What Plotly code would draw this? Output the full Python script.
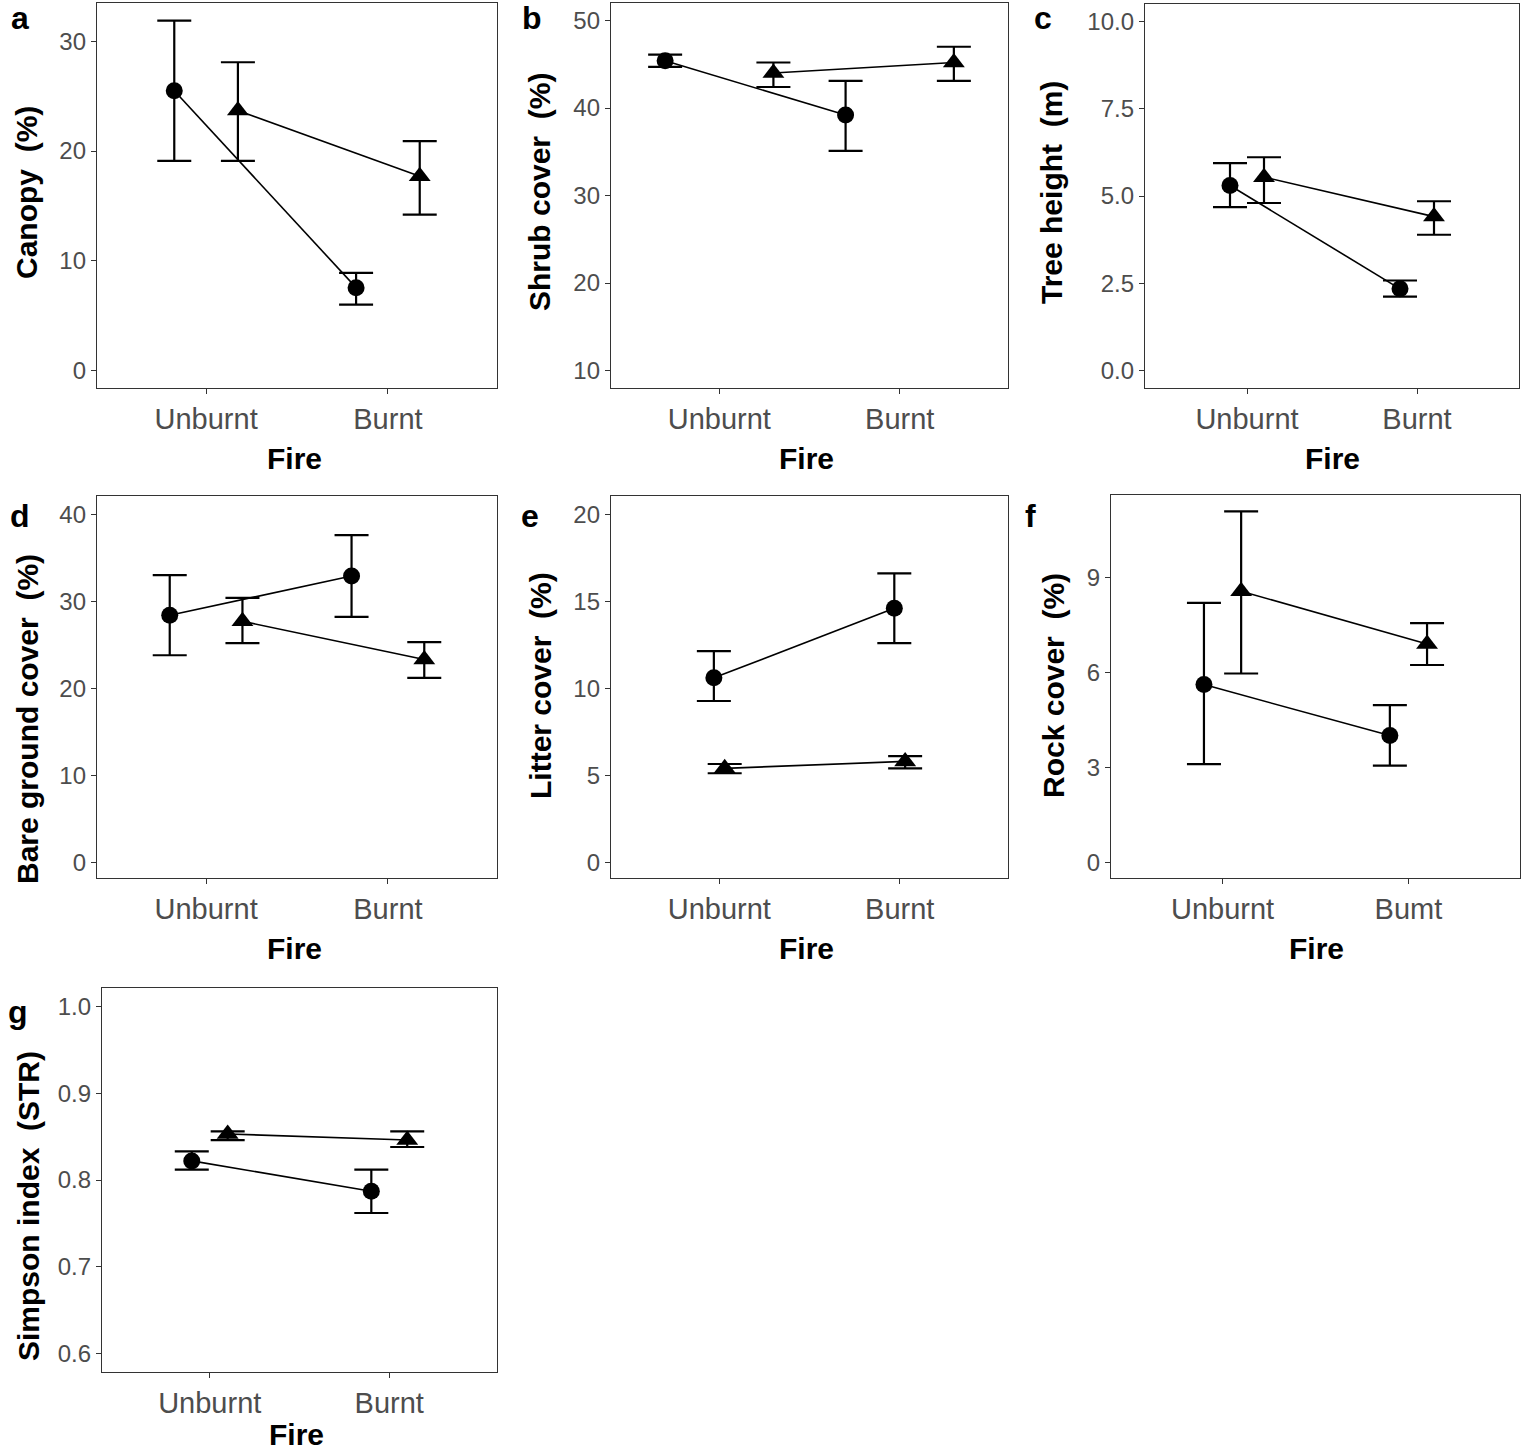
import plotly.graph_objects as go

# categories on the x axis
fire_labels = ["Unburnt", "Burnt"]
fire_labels_f = ["Unburnt", "Bumt"]

# a - canopy (%)
canopy_circle = [25.5, 7.55]
canopy_circle_lo = [19.1, 6.0]
canopy_circle_hi = [31.9, 8.9]
canopy_tri = [23.7, 17.7]
canopy_tri_lo = [19.1, 14.2]
canopy_tri_hi = [28.1, 20.9]

# b - shrub cover (%)
shrub_circle = [45.4, 39.2]
shrub_circle_lo = [44.7, 35.1]
shrub_circle_hi = [46.1, 43.1]
shrub_tri = [44.0, 45.2]
shrub_tri_lo = [42.4, 43.1]
shrub_tri_hi = [45.2, 47.0]

# c - tree height (m)
height_circle = [5.3, 2.34]
height_circle_lo = [4.68, 2.12]
height_circle_hi = [5.94, 2.58]
height_tri = [5.54, 4.41]
height_tri_lo = [4.8, 3.89]
height_tri_hi = [6.11, 4.85]

# d - bare ground cover (%)
bare_circle = [28.4, 32.9]
bare_circle_lo = [23.8, 28.2]
bare_circle_hi = [33.0, 37.6]
bare_tri = [27.7, 23.3]
bare_tri_lo = [25.2, 21.2]
bare_tri_hi = [30.4, 25.3]

# e - litter cover (%)
litter_circle = [10.6, 14.6]
litter_circle_lo = [9.27, 12.6]
litter_circle_hi = [12.14, 16.6]
litter_tri = [5.4, 5.8]
litter_tri_lo = [5.12, 5.4]
litter_tri_hi = [5.65, 6.1]

# f - rock cover (%)
rock_circle = [5.61, 4.0]
rock_circle_lo = [3.1, 3.05]
rock_circle_hi = [8.19, 4.96]
rock_tri = [8.56, 6.89]
rock_tri_lo = [5.96, 6.23]
rock_tri_hi = [11.08, 7.55]

# g - simpson index (STR)
simpson_circle = [0.822, 0.787]
simpson_circle_lo = [0.812, 0.762]
simpson_circle_hi = [0.833, 0.812]
simpson_tri = [0.853, 0.846]
simpson_tri_lo = [0.846, 0.838]
simpson_tri_hi = [0.856, 0.856]

W, H = 1524, 1455

FONT = "Liberation Sans, Arial, sans-serif"


def px_x(x):
    return x / W


def px_y(y):
    return 1 - y / H


panels = [
    dict(letter="a", title="Canopy  (%)", box=(97, 3, 497, 388), yr=[-1.6, 33.5],
         yt=[0, 10, 20, 30], fmt="", dodge=0.175, ticks=fire_labels,
         data=(canopy_circle, canopy_circle_lo, canopy_circle_hi,
               canopy_tri, canopy_tri_lo, canopy_tri_hi),
         tx=27, ty=193, lx=20, ly=18, fx=294, fy=458),
    dict(letter="b", title="Shrub cover  (%)", box=(611, 3, 1008, 388), yr=[8, 52],
         yt=[10, 20, 30, 40, 50], fmt="", dodge=0.3, ticks=fire_labels,
         data=(shrub_circle, shrub_circle_lo, shrub_circle_hi,
               shrub_tri, shrub_tri_lo, shrub_tri_hi),
         tx=540, ty=192, lx=532, ly=18, fx=806, fy=458),
    dict(letter="c", title="Tree height  (m)", box=(1145, 4, 1519, 388), yr=[-0.5, 10.5],
         yt=[0, 2.5, 5, 7.5, 10], fmt=".1f", dodge=0.1, ticks=fire_labels,
         data=(height_circle, height_circle_lo, height_circle_hi,
               height_tri, height_tri_lo, height_tri_hi),
         tx=1052, ty=193, lx=1043, ly=18, fx=1332, fy=458),
    dict(letter="d", title="Bare ground cover  (%)", box=(97, 496, 497, 878), yr=[-1.8, 42.1],
         yt=[0, 10, 20, 30, 40], fmt="", dodge=0.2, ticks=fire_labels,
         data=(bare_circle, bare_circle_lo, bare_circle_hi,
               bare_tri, bare_tri_lo, bare_tri_hi),
         tx=27, ty=719, lx=20, ly=516, fx=294, fy=948),
    dict(letter="e", title="Litter cover  (%)", box=(611, 496, 1008, 878), yr=[-0.9, 21.05],
         yt=[0, 5, 10, 15, 20], fmt="", dodge=0.03, ticks=fire_labels,
         data=(litter_circle, litter_circle_lo, litter_circle_hi,
               litter_tri, litter_tri_lo, litter_tri_hi),
         tx=540, ty=686, lx=530, ly=516, fx=807, fy=948),
    dict(letter="f", title="Rock cover  (%)", box=(1111, 495, 1520, 878), yr=[-0.5, 11.6],
         yt=[0, 3, 6, 9], fmt="", dodge=0.1, ticks=fire_labels_f,
         data=(rock_circle, rock_circle_lo, rock_circle_hi,
               rock_tri, rock_tri_lo, rock_tri_hi),
         tx=1053, ty=686, lx=1030, ly=516, fx=1316, fy=948),
    dict(letter="g", title="Simpson index  (STR)", box=(102, 988, 497, 1372), yr=[0.579, 1.021],
         yt=[0.6, 0.7, 0.8, 0.9, 1.0], fmt=".1f", dodge=0.1, ticks=fire_labels,
         data=(simpson_circle, simpson_circle_lo, simpson_circle_hi,
               simpson_tri, simpson_tri_lo, simpson_tri_hi),
         tx=28, ty=1206, lx=18, ly=1012, fx=296, fy=1434),
]

fig = go.Figure()
annotations = []
positions = [1, 2]

for i, p in enumerate(panels):
    n = "" if i == 0 else str(i + 1)
    xa, ya = "x" + n, "y" + n
    c, c_lo, c_hi, t, t_lo, t_hi = p["data"]

    for mean, lo, hi, sym, size, sign in [
        (c, c_lo, c_hi, "circle", 17, -1),
        (t, t_lo, t_hi, "triangle-up", 19, 1),
    ]:
        fig.add_trace(go.Scatter(
            x=[v + sign * p["dodge"] for v in positions],
            y=mean,
            mode="lines+markers",
            line=dict(color="black", width=1.6),
            marker=dict(symbol=sym, size=size, color="black"),
            error_y=dict(
                type="data", symmetric=False,
                array=[h - m for h, m in zip(hi, mean)],
                arrayminus=[m - l for m, l in zip(mean, lo)],
                color="black", thickness=2.2, width=17,
            ),
            xaxis=xa, yaxis=ya, showlegend=False,
        ))

    x0, y0, x1, y1 = p["box"]
    axis_style = dict(
        showline=True, mirror=True, linecolor="#333333", linewidth=1.4,
        ticks="outside", ticklen=5, tickwidth=1.4, tickcolor="#333333",
        showgrid=False, zeroline=False,
    )
    fig.layout["xaxis" + n] = dict(
        domain=[px_x(x0), px_x(x1)], anchor=ya, range=[0.4, 2.6],
        tickvals=positions, ticktext=p["ticks"],
        tickfont=dict(size=29, color="#4d4d4d", family=FONT), **axis_style,
    )
    fig.layout["yaxis" + n] = dict(
        domain=[px_y(y1), px_y(y0)], anchor=xa, range=p["yr"],
        tickvals=p["yt"], tickformat=p["fmt"],
        tickfont=dict(size=24, color="#4d4d4d", family=FONT), **axis_style,
    )

    annotations.append(dict(
        text="<b>" + p["title"] + "</b>", textangle=-90,
        x=px_x(p["tx"]), y=px_y(p["ty"]), xref="paper", yref="paper",
        xanchor="center", yanchor="middle", showarrow=False,
        font=dict(size=30, color="black", family=FONT),
    ))
    annotations.append(dict(
        text="<b>Fire</b>", x=px_x(p["fx"]), y=px_y(p["fy"]),
        xref="paper", yref="paper", xanchor="center", yanchor="middle",
        showarrow=False, font=dict(size=30, color="black", family=FONT),
    ))
    annotations.append(dict(
        text="<b>" + p["letter"] + "</b>", x=px_x(p["lx"]), y=px_y(p["ly"]),
        xref="paper", yref="paper", xanchor="center", yanchor="middle",
        showarrow=False, font=dict(size=32, color="black", family=FONT),
    ))

fig.update_layout(
    width=W, height=H,
    margin=dict(l=0, r=0, t=0, b=0),
    plot_bgcolor="white", paper_bgcolor="white",
    font=dict(family=FONT),
    annotations=annotations,
)

# drop the default page margin so the figure sits at the window corner
fig.write_html(
    "out.html",
    config={"displayModeBar": False},
    post_script="document.body.style.margin = '0';",
)
